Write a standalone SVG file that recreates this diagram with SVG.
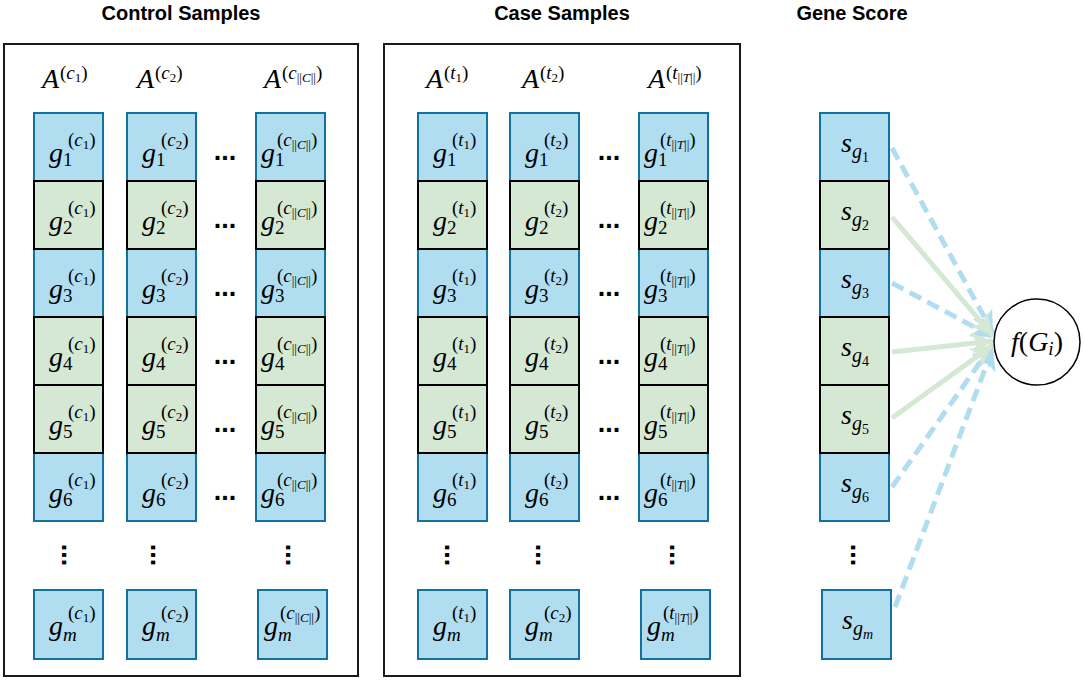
<svg xmlns="http://www.w3.org/2000/svg" width="1084" height="680" viewBox="0 0 1084 680">
<style>
.h{font-family:"Liberation Sans",Arial,sans-serif;font-weight:bold;font-size:20px;text-anchor:middle;fill:#000}
.t{font-family:"Liberation Serif","Times New Roman",serif;fill:#000}
.v{font-size:28px;font-style:italic}
.s{font-size:19px}
.ss{font-size:13px}
.it{font-style:italic}
.gs{font-size:20px;font-style:italic}
.gd{font-size:14px}
.b{fill:#b1ddf0;stroke:#10739e;stroke-width:2}
.gr{fill:#d5e8d4;stroke:#000;stroke-width:2}
.box{fill:#fff;stroke:#1a1a1a;stroke-width:2}
.dot{font-family:"Liberation Sans",Arial,sans-serif;font-weight:bold;font-size:27px;text-anchor:middle;fill:#000}
.cg{fill:none;stroke:#d5e8d4;stroke-width:5}
.cb{fill:none;stroke:#b1ddf0;stroke-width:5;stroke-dasharray:13 7}
</style>
<defs>
<marker id="ag" markerUnits="userSpaceOnUse" markerWidth="26" markerHeight="24" refX="22" refY="12" orient="auto"><path d="M0,1 L22,12 L0,23 L6,12 Z" fill="#d5e8d4"/></marker>
<marker id="ab" markerUnits="userSpaceOnUse" markerWidth="26" markerHeight="24" refX="22" refY="12" orient="auto"><path d="M0,1 L22,12 L0,23 L6,12 Z" fill="#b1ddf0"/></marker>
</defs>
<rect width="1084" height="680" fill="#fff"/>
<g id="titles">
<text class="h" x="181" y="20">Control Samples</text>
<text class="h" x="562" y="20">Case Samples</text>
<text class="h" x="852" y="20">Gene Score</text>
</g>
<g id="control-box"><rect class="box" x="4" y="44" width="354" height="632"/></g>
<g id="case-box"><rect class="box" x="384" y="44" width="356" height="632"/></g>
<g id="headers">
<text class="t"><tspan class="v" x="42" y="88">A</tspan><tspan class="s" x="60" y="79">(<tspan class="it">c</tspan><tspan class="ss" dy="3">1</tspan><tspan dy="-3">)</tspan></tspan></text>
<text class="t"><tspan class="v" x="137" y="88">A</tspan><tspan class="s" x="155" y="79">(<tspan class="it">c</tspan><tspan class="ss" dy="3">2</tspan><tspan dy="-3">)</tspan></tspan></text>
<text class="t"><tspan class="v" x="264" y="88">A</tspan><tspan class="s" x="282" y="79">(<tspan class="it">c</tspan><tspan class="ss" dy="3">||<tspan class="it">C</tspan>||</tspan><tspan dy="-3">)</tspan></tspan></text>
<text class="t"><tspan class="v" x="426" y="88">A</tspan><tspan class="s" x="444" y="79">(<tspan class="it">t</tspan><tspan class="ss" dy="3">1</tspan><tspan dy="-3">)</tspan></tspan></text>
<text class="t"><tspan class="v" x="522" y="88">A</tspan><tspan class="s" x="540" y="79">(<tspan class="it">t</tspan><tspan class="ss" dy="3">2</tspan><tspan dy="-3">)</tspan></tspan></text>
<text class="t"><tspan class="v" x="648" y="88">A</tspan><tspan class="s" x="666" y="79">(<tspan class="it">t</tspan><tspan class="ss" dy="3">||<tspan class="it">T</tspan>||</tspan><tspan dy="-3">)</tspan></tspan></text>
</g>
<g id="connectors">
<line class="cb" x1="892" y1="148" x2="993" y2="333" marker-end="url(#ab)"/>
<line class="cb" x1="892" y1="283" x2="993" y2="337" marker-end="url(#ab)"/>
<line class="cb" x1="892" y1="487" x2="993" y2="344" marker-end="url(#ab)"/>
<line class="cb" x1="895" y1="607" x2="993" y2="348" marker-end="url(#ab)"/>
<line class="cg" x1="892" y1="217" x2="993" y2="336" marker-end="url(#ag)"/>
<line class="cg" x1="892" y1="352" x2="993" y2="341" marker-end="url(#ag)"/>
<line class="cg" x1="892" y1="418" x2="993" y2="345" marker-end="url(#ag)"/>
</g>
<!-- blue cells -->
<g id="c1-r1"><rect class="b" x="34" y="113" width="69" height="68"/><text class="t"><tspan class="v" x="49" y="162">g</tspan><tspan class="s" x="63" y="166">1</tspan><tspan class="s" x="68" y="146">(<tspan class="it">c</tspan><tspan class="ss" dy="3">1</tspan><tspan dy="-3">)</tspan></tspan></text></g>
<g id="c1-r3"><rect class="b" x="34" y="249" width="69" height="68"/><text class="t"><tspan class="v" x="49" y="298">g</tspan><tspan class="s" x="63" y="302">3</tspan><tspan class="s" x="68" y="282">(<tspan class="it">c</tspan><tspan class="ss" dy="3">1</tspan><tspan dy="-3">)</tspan></tspan></text></g>
<g id="c1-r6"><rect class="b" x="34" y="453" width="69" height="68"/><text class="t"><tspan class="v" x="49" y="502">g</tspan><tspan class="s" x="63" y="506">6</tspan><tspan class="s" x="68" y="486">(<tspan class="it">c</tspan><tspan class="ss" dy="3">1</tspan><tspan dy="-3">)</tspan></tspan></text></g>
<g id="c1-rm"><rect class="b" x="34" y="590" width="69" height="69"/><text class="t"><tspan class="v" x="49" y="635">g</tspan><tspan class="s it" x="63" y="641">m</tspan><tspan class="s" x="68" y="619">(<tspan class="it">c</tspan><tspan class="ss" dy="3">1</tspan><tspan dy="-3">)</tspan></tspan></text></g>

<g id="c2-r1"><rect class="b" x="127" y="113" width="69" height="68"/><text class="t"><tspan class="v" x="142" y="162">g</tspan><tspan class="s" x="156" y="166">1</tspan><tspan class="s" x="161" y="146">(<tspan class="it">c</tspan><tspan class="ss" dy="3">2</tspan><tspan dy="-3">)</tspan></tspan></text></g>
<g id="c2-r3"><rect class="b" x="127" y="249" width="69" height="68"/><text class="t"><tspan class="v" x="142" y="298">g</tspan><tspan class="s" x="156" y="302">3</tspan><tspan class="s" x="161" y="282">(<tspan class="it">c</tspan><tspan class="ss" dy="3">2</tspan><tspan dy="-3">)</tspan></tspan></text></g>
<g id="c2-r6"><rect class="b" x="127" y="453" width="69" height="68"/><text class="t"><tspan class="v" x="142" y="502">g</tspan><tspan class="s" x="156" y="506">6</tspan><tspan class="s" x="161" y="486">(<tspan class="it">c</tspan><tspan class="ss" dy="3">2</tspan><tspan dy="-3">)</tspan></tspan></text></g>
<g id="c2-rm"><rect class="b" x="127" y="590" width="69" height="69"/><text class="t"><tspan class="v" x="142" y="635">g</tspan><tspan class="s it" x="156" y="641">m</tspan><tspan class="s" x="161" y="619">(<tspan class="it">c</tspan><tspan class="ss" dy="3">2</tspan><tspan dy="-3">)</tspan></tspan></text></g>

<g id="c3-r1"><rect class="b" x="256" y="113" width="69" height="68"/><text class="t"><tspan class="v" x="261" y="162">g</tspan><tspan class="s" x="275" y="166">1</tspan><tspan class="s" x="277" y="146">(<tspan class="it">c</tspan><tspan class="ss" dy="3">||<tspan class="it">C</tspan>||</tspan><tspan dy="-3">)</tspan></tspan></text></g>
<g id="c3-r3"><rect class="b" x="256" y="249" width="69" height="68"/><text class="t"><tspan class="v" x="261" y="298">g</tspan><tspan class="s" x="275" y="302">3</tspan><tspan class="s" x="277" y="282">(<tspan class="it">c</tspan><tspan class="ss" dy="3">||<tspan class="it">C</tspan>||</tspan><tspan dy="-3">)</tspan></tspan></text></g>
<g id="c3-r6"><rect class="b" x="256" y="453" width="69" height="68"/><text class="t"><tspan class="v" x="261" y="502">g</tspan><tspan class="s" x="275" y="506">6</tspan><tspan class="s" x="277" y="486">(<tspan class="it">c</tspan><tspan class="ss" dy="3">||<tspan class="it">C</tspan>||</tspan><tspan dy="-3">)</tspan></tspan></text></g>
<g id="c3-rm"><rect class="b" x="258" y="590" width="69" height="69"/><text class="t"><tspan class="v" x="264" y="635">g</tspan><tspan class="s it" x="278" y="641">m</tspan><tspan class="s" x="280" y="619">(<tspan class="it">c</tspan><tspan class="ss" dy="3">||<tspan class="it">C</tspan>||</tspan><tspan dy="-3">)</tspan></tspan></text></g>

<g id="t1-r1"><rect class="b" x="418" y="113" width="69" height="68"/><text class="t"><tspan class="v" x="433" y="162">g</tspan><tspan class="s" x="447" y="166">1</tspan><tspan class="s" x="452" y="146">(<tspan class="it">t</tspan><tspan class="ss" dy="3">1</tspan><tspan dy="-3">)</tspan></tspan></text></g>
<g id="t1-r3"><rect class="b" x="418" y="249" width="69" height="68"/><text class="t"><tspan class="v" x="433" y="298">g</tspan><tspan class="s" x="447" y="302">3</tspan><tspan class="s" x="452" y="282">(<tspan class="it">t</tspan><tspan class="ss" dy="3">1</tspan><tspan dy="-3">)</tspan></tspan></text></g>
<g id="t1-r6"><rect class="b" x="418" y="453" width="69" height="68"/><text class="t"><tspan class="v" x="433" y="502">g</tspan><tspan class="s" x="447" y="506">6</tspan><tspan class="s" x="452" y="486">(<tspan class="it">t</tspan><tspan class="ss" dy="3">1</tspan><tspan dy="-3">)</tspan></tspan></text></g>
<g id="t1-rm"><rect class="b" x="418" y="590" width="69" height="69"/><text class="t"><tspan class="v" x="433" y="635">g</tspan><tspan class="s it" x="447" y="641">m</tspan><tspan class="s" x="452" y="619">(<tspan class="it">t</tspan><tspan class="ss" dy="3">1</tspan><tspan dy="-3">)</tspan></tspan></text></g>

<g id="t2-r1"><rect class="b" x="510" y="113" width="69" height="68"/><text class="t"><tspan class="v" x="525" y="162">g</tspan><tspan class="s" x="539" y="166">1</tspan><tspan class="s" x="544" y="146">(<tspan class="it">t</tspan><tspan class="ss" dy="3">2</tspan><tspan dy="-3">)</tspan></tspan></text></g>
<g id="t2-r3"><rect class="b" x="510" y="249" width="69" height="68"/><text class="t"><tspan class="v" x="525" y="298">g</tspan><tspan class="s" x="539" y="302">3</tspan><tspan class="s" x="544" y="282">(<tspan class="it">t</tspan><tspan class="ss" dy="3">2</tspan><tspan dy="-3">)</tspan></tspan></text></g>
<g id="t2-r6"><rect class="b" x="510" y="453" width="69" height="68"/><text class="t"><tspan class="v" x="525" y="502">g</tspan><tspan class="s" x="539" y="506">6</tspan><tspan class="s" x="544" y="486">(<tspan class="it">t</tspan><tspan class="ss" dy="3">2</tspan><tspan dy="-3">)</tspan></tspan></text></g>
<g id="t2-rm"><rect class="b" x="510" y="590" width="69" height="69"/><text class="t"><tspan class="v" x="525" y="635">g</tspan><tspan class="s it" x="539" y="641">m</tspan><tspan class="s" x="544" y="619">(<tspan class="it">c</tspan><tspan class="ss" dy="3">2</tspan><tspan dy="-3">)</tspan></tspan></text></g>

<g id="t3-r1"><rect class="b" x="639" y="113" width="69" height="68"/><text class="t"><tspan class="v" x="644" y="162">g</tspan><tspan class="s" x="658" y="166">1</tspan><tspan class="s" x="660" y="146">(<tspan class="it">t</tspan><tspan class="ss" dy="3">||<tspan class="it">T</tspan>||</tspan><tspan dy="-3">)</tspan></tspan></text></g>
<g id="t3-r3"><rect class="b" x="639" y="249" width="69" height="68"/><text class="t"><tspan class="v" x="644" y="298">g</tspan><tspan class="s" x="658" y="302">3</tspan><tspan class="s" x="660" y="282">(<tspan class="it">t</tspan><tspan class="ss" dy="3">||<tspan class="it">T</tspan>||</tspan><tspan dy="-3">)</tspan></tspan></text></g>
<g id="t3-r6"><rect class="b" x="639" y="453" width="69" height="68"/><text class="t"><tspan class="v" x="644" y="502">g</tspan><tspan class="s" x="658" y="506">6</tspan><tspan class="s" x="660" y="486">(<tspan class="it">t</tspan><tspan class="ss" dy="3">||<tspan class="it">T</tspan>||</tspan><tspan dy="-3">)</tspan></tspan></text></g>
<g id="t3-rm"><rect class="b" x="641" y="590" width="69" height="69"/><text class="t"><tspan class="v" x="647" y="635">g</tspan><tspan class="s it" x="661" y="641">m</tspan><tspan class="s" x="663" y="619">(<tspan class="it">t</tspan><tspan class="ss" dy="3">||<tspan class="it">T</tspan>||</tspan><tspan dy="-3">)</tspan></tspan></text></g>

<g id="s-r1"><rect class="b" x="820" y="113" width="69" height="68"/><text class="t"><tspan class="v" x="841" y="152">s</tspan><tspan class="gs" x="852" y="158">g</tspan><tspan class="gd" dy="4">1</tspan></text></g>
<g id="s-r3"><rect class="b" x="820" y="249" width="69" height="68"/><text class="t"><tspan class="v" x="841" y="288">s</tspan><tspan class="gs" x="852" y="294">g</tspan><tspan class="gd" dy="4">3</tspan></text></g>
<g id="s-r6"><rect class="b" x="820" y="453" width="69" height="68"/><text class="t"><tspan class="v" x="841" y="492">s</tspan><tspan class="gs" x="852" y="498">g</tspan><tspan class="gd" dy="4">6</tspan></text></g>
<g id="s-rm"><rect class="b" x="822" y="590" width="69" height="69"/><text class="t"><tspan class="v" x="842" y="629">s</tspan><tspan class="gs" x="853" y="635">g</tspan><tspan class="gd it" dy="4">m</tspan></text></g>

<!-- green cells -->
<g id="c1-r2"><rect class="gr" x="34" y="181" width="69" height="68"/><text class="t"><tspan class="v" x="49" y="230">g</tspan><tspan class="s" x="63" y="234">2</tspan><tspan class="s" x="68" y="214">(<tspan class="it">c</tspan><tspan class="ss" dy="3">1</tspan><tspan dy="-3">)</tspan></tspan></text></g>
<g id="c1-r4"><rect class="gr" x="34" y="317" width="69" height="68"/><text class="t"><tspan class="v" x="49" y="366">g</tspan><tspan class="s" x="63" y="370">4</tspan><tspan class="s" x="68" y="350">(<tspan class="it">c</tspan><tspan class="ss" dy="3">1</tspan><tspan dy="-3">)</tspan></tspan></text></g>
<g id="c1-r5"><rect class="gr" x="34" y="385" width="69" height="68"/><text class="t"><tspan class="v" x="49" y="434">g</tspan><tspan class="s" x="63" y="438">5</tspan><tspan class="s" x="68" y="418">(<tspan class="it">c</tspan><tspan class="ss" dy="3">1</tspan><tspan dy="-3">)</tspan></tspan></text></g>

<g id="c2-r2"><rect class="gr" x="127" y="181" width="69" height="68"/><text class="t"><tspan class="v" x="142" y="230">g</tspan><tspan class="s" x="156" y="234">2</tspan><tspan class="s" x="161" y="214">(<tspan class="it">c</tspan><tspan class="ss" dy="3">2</tspan><tspan dy="-3">)</tspan></tspan></text></g>
<g id="c2-r4"><rect class="gr" x="127" y="317" width="69" height="68"/><text class="t"><tspan class="v" x="142" y="366">g</tspan><tspan class="s" x="156" y="370">4</tspan><tspan class="s" x="161" y="350">(<tspan class="it">c</tspan><tspan class="ss" dy="3">2</tspan><tspan dy="-3">)</tspan></tspan></text></g>
<g id="c2-r5"><rect class="gr" x="127" y="385" width="69" height="68"/><text class="t"><tspan class="v" x="142" y="434">g</tspan><tspan class="s" x="156" y="438">5</tspan><tspan class="s" x="161" y="418">(<tspan class="it">c</tspan><tspan class="ss" dy="3">2</tspan><tspan dy="-3">)</tspan></tspan></text></g>

<g id="c3-r2"><rect class="gr" x="256" y="181" width="69" height="68"/><text class="t"><tspan class="v" x="261" y="230">g</tspan><tspan class="s" x="275" y="234">2</tspan><tspan class="s" x="277" y="214">(<tspan class="it">c</tspan><tspan class="ss" dy="3">||<tspan class="it">C</tspan>||</tspan><tspan dy="-3">)</tspan></tspan></text></g>
<g id="c3-r4"><rect class="gr" x="256" y="317" width="69" height="68"/><text class="t"><tspan class="v" x="261" y="366">g</tspan><tspan class="s" x="275" y="370">4</tspan><tspan class="s" x="277" y="350">(<tspan class="it">c</tspan><tspan class="ss" dy="3">||<tspan class="it">C</tspan>||</tspan><tspan dy="-3">)</tspan></tspan></text></g>
<g id="c3-r5"><rect class="gr" x="256" y="385" width="69" height="68"/><text class="t"><tspan class="v" x="261" y="434">g</tspan><tspan class="s" x="275" y="438">5</tspan><tspan class="s" x="277" y="418">(<tspan class="it">c</tspan><tspan class="ss" dy="3">||<tspan class="it">C</tspan>||</tspan><tspan dy="-3">)</tspan></tspan></text></g>

<g id="t1-r2"><rect class="gr" x="418" y="181" width="69" height="68"/><text class="t"><tspan class="v" x="433" y="230">g</tspan><tspan class="s" x="447" y="234">2</tspan><tspan class="s" x="452" y="214">(<tspan class="it">t</tspan><tspan class="ss" dy="3">1</tspan><tspan dy="-3">)</tspan></tspan></text></g>
<g id="t1-r4"><rect class="gr" x="418" y="317" width="69" height="68"/><text class="t"><tspan class="v" x="433" y="366">g</tspan><tspan class="s" x="447" y="370">4</tspan><tspan class="s" x="452" y="350">(<tspan class="it">t</tspan><tspan class="ss" dy="3">1</tspan><tspan dy="-3">)</tspan></tspan></text></g>
<g id="t1-r5"><rect class="gr" x="418" y="385" width="69" height="68"/><text class="t"><tspan class="v" x="433" y="434">g</tspan><tspan class="s" x="447" y="438">5</tspan><tspan class="s" x="452" y="418">(<tspan class="it">t</tspan><tspan class="ss" dy="3">1</tspan><tspan dy="-3">)</tspan></tspan></text></g>

<g id="t2-r2"><rect class="gr" x="510" y="181" width="69" height="68"/><text class="t"><tspan class="v" x="525" y="230">g</tspan><tspan class="s" x="539" y="234">2</tspan><tspan class="s" x="544" y="214">(<tspan class="it">t</tspan><tspan class="ss" dy="3">2</tspan><tspan dy="-3">)</tspan></tspan></text></g>
<g id="t2-r4"><rect class="gr" x="510" y="317" width="69" height="68"/><text class="t"><tspan class="v" x="525" y="366">g</tspan><tspan class="s" x="539" y="370">4</tspan><tspan class="s" x="544" y="350">(<tspan class="it">t</tspan><tspan class="ss" dy="3">2</tspan><tspan dy="-3">)</tspan></tspan></text></g>
<g id="t2-r5"><rect class="gr" x="510" y="385" width="69" height="68"/><text class="t"><tspan class="v" x="525" y="434">g</tspan><tspan class="s" x="539" y="438">5</tspan><tspan class="s" x="544" y="418">(<tspan class="it">t</tspan><tspan class="ss" dy="3">2</tspan><tspan dy="-3">)</tspan></tspan></text></g>

<g id="t3-r2"><rect class="gr" x="639" y="181" width="69" height="68"/><text class="t"><tspan class="v" x="644" y="230">g</tspan><tspan class="s" x="658" y="234">2</tspan><tspan class="s" x="660" y="214">(<tspan class="it">t</tspan><tspan class="ss" dy="3">||<tspan class="it">T</tspan>||</tspan><tspan dy="-3">)</tspan></tspan></text></g>
<g id="t3-r4"><rect class="gr" x="639" y="317" width="69" height="68"/><text class="t"><tspan class="v" x="644" y="366">g</tspan><tspan class="s" x="658" y="370">4</tspan><tspan class="s" x="660" y="350">(<tspan class="it">t</tspan><tspan class="ss" dy="3">||<tspan class="it">T</tspan>||</tspan><tspan dy="-3">)</tspan></tspan></text></g>
<g id="t3-r5"><rect class="gr" x="639" y="385" width="69" height="68"/><text class="t"><tspan class="v" x="644" y="434">g</tspan><tspan class="s" x="658" y="438">5</tspan><tspan class="s" x="660" y="418">(<tspan class="it">t</tspan><tspan class="ss" dy="3">||<tspan class="it">T</tspan>||</tspan><tspan dy="-3">)</tspan></tspan></text></g>

<g id="s-r2"><rect class="gr" x="820" y="181" width="69" height="68"/><text class="t"><tspan class="v" x="841" y="220">s</tspan><tspan class="gs" x="852" y="226">g</tspan><tspan class="gd" dy="4">2</tspan></text></g>
<g id="s-r4"><rect class="gr" x="820" y="317" width="69" height="68"/><text class="t"><tspan class="v" x="841" y="356">s</tspan><tspan class="gs" x="852" y="362">g</tspan><tspan class="gd" dy="4">4</tspan></text></g>
<g id="s-r5"><rect class="gr" x="820" y="385" width="69" height="68"/><text class="t"><tspan class="v" x="841" y="424">s</tspan><tspan class="gs" x="852" y="430">g</tspan><tspan class="gd" dy="4">5</tspan></text></g>

<g id="ellipses">
<text class="dot" x="225" y="160">...</text>
<text class="dot" x="225" y="228">...</text>
<text class="dot" x="225" y="296">...</text>
<text class="dot" x="225" y="364">...</text>
<text class="dot" x="225" y="432">...</text>
<text class="dot" x="225" y="500">...</text>
<text class="dot" x="609" y="160">...</text>
<text class="dot" x="609" y="228">...</text>
<text class="dot" x="609" y="296">...</text>
<text class="dot" x="609" y="364">...</text>
<text class="dot" x="609" y="432">...</text>
<text class="dot" x="609" y="500">...</text>
<text class="dot" x="61.5" y="555" transform="rotate(90 61.5 555)">...</text>
<text class="dot" x="151" y="555" transform="rotate(90 151 555)">...</text>
<text class="dot" x="286" y="555" transform="rotate(90 286 555)">...</text>
<text class="dot" x="444.5" y="555" transform="rotate(90 444.5 555)">...</text>
<text class="dot" x="535.5" y="555" transform="rotate(90 535.5 555)">...</text>
<text class="dot" x="670" y="555" transform="rotate(90 670 555)">...</text>
<text class="dot" x="850.5" y="555" transform="rotate(90 850.5 555)">...</text>
</g>
<g id="f-node">
<circle cx="1037" cy="342" r="43" fill="#fff" stroke="#000" stroke-width="1.5"/>
<text class="t" x="1037" y="351" text-anchor="middle" font-size="28"><tspan class="it">f</tspan>(<tspan class="it">G</tspan><tspan class="it" font-size="19" dy="4">i</tspan><tspan dy="-4">)</tspan></text>
</g>
</svg>
